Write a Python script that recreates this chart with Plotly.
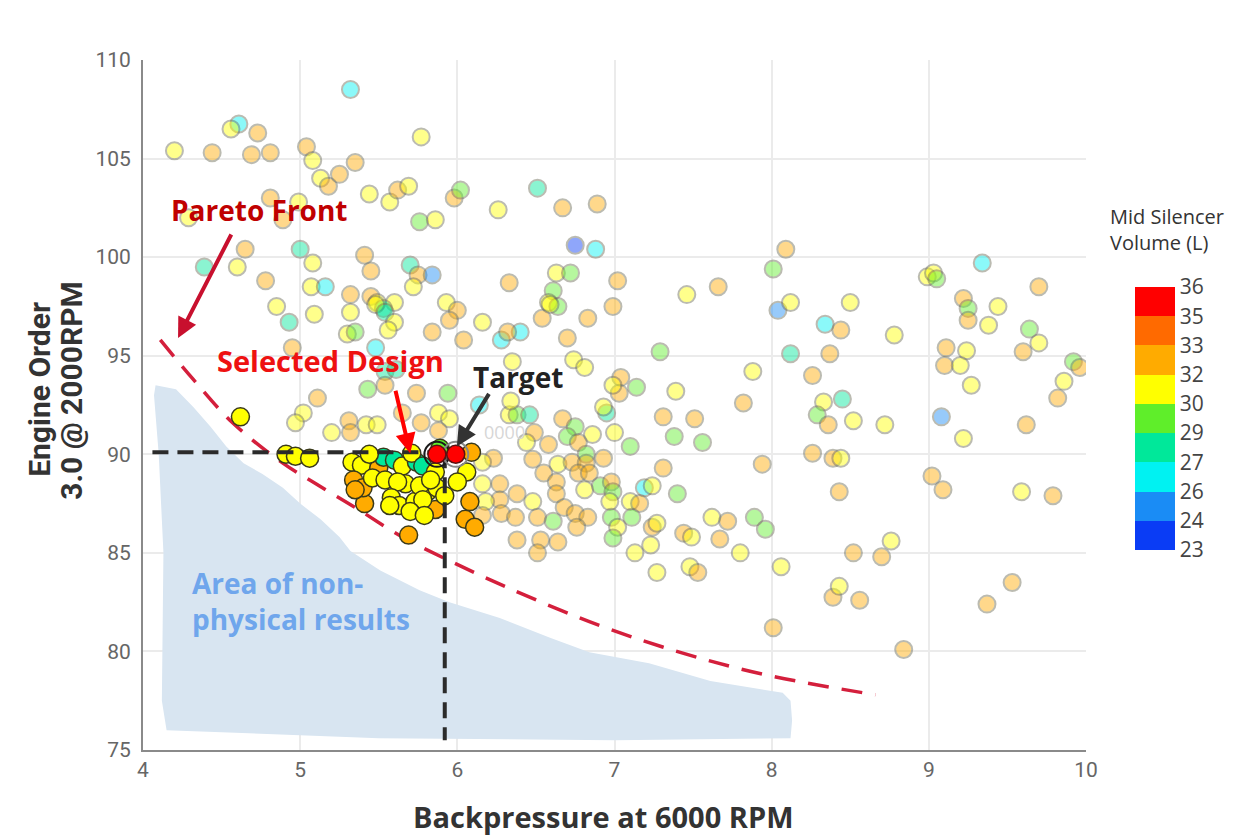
import plotly.graph_objects as go

# ---------------- data ----------------
# Volume classes (mid-band values of the colour scale)
O, Y, G, T, C, B, P = 32.5, 31.0, 29.5, 28.0, 26.5, 25.0, 23.5
A, R = 32.5, 35.5

bg_pts = [
    (5.32,108.5,C),(4.61,106.75,C),(4.56,106.5,Y),(4.73,106.3,O),(4.20,105.4,Y),(4.44,105.3,O),
    (4.69,105.2,O),(4.81,105.3,O),(5.04,105.6,O),(5.08,104.9,Y),(5.35,104.8,O),(5.77,106.1,Y),
    (5.13,104.0,Y),(5.18,103.6,O),(5.25,104.2,O),(5.44,103.2,Y),(5.57,102.8,Y),(5.62,103.4,O),
    (5.69,103.6,Y),(5.98,103.0,O),(6.02,103.4,G),(5.76,101.8,G),(5.86,101.9,Y),(4.81,103.0,O),
    (4.99,102.8,Y),(4.29,102.0,Y),(4.89,101.9,O),(4.65,100.4,O),(4.39,99.5,T),(4.60,99.5,Y),
    (5.00,100.4,T),(5.08,99.7,Y),(4.78,98.8,O),(5.07,98.5,Y),(5.16,98.5,C),(5.41,100.1,O),
    (5.45,99.3,O),(5.70,99.6,T),(5.75,99.1,O),(5.84,99.1,B),(5.72,98.5,Y),(5.32,98.1,O),
    (5.45,98.0,O),(5.49,97.7,Y),(5.60,97.7,Y),(5.93,97.7,Y),(4.85,97.5,Y),(5.53,97.4,T),
    (6.26,102.4,Y),(6.51,103.5,T),(6.67,102.5,O),(6.89,102.7,O),(6.75,100.6,P),(6.88,100.4,C),
    (6.33,98.7,O),(6.63,99.2,Y),(6.72,99.2,G),(6.61,98.3,G),(6.58,97.7,Y),(6.64,97.5,G),
    (7.02,98.8,O),(6.99,97.5,O),(7.46,98.1,Y),(7.66,98.5,O),(8.01,99.4,G),(8.09,100.4,O),
    (8.04,97.3,B),(6.00,97.3,O),
    (8.12,97.7,Y),(8.50,97.7,Y),(8.99,99.0,Y),(9.03,99.2,Y),(9.05,98.9,G),(9.34,99.7,C),
    (9.22,97.9,O),(9.25,97.4,G),(9.44,97.5,Y),(9.70,98.5,O),
    (4.93,96.7,T),(5.09,97.1,Y),(5.32,97.2,Y),(5.48,97.6,Y),(5.54,97.2,T),(5.60,96.7,Y),
    (5.56,96.3,Y),(5.30,96.1,Y),(5.35,96.2,G),(5.84,96.2,O),(5.95,96.8,O),(4.95,95.4,O),
    (5.48,95.4,C),(5.54,94.2,T),(5.61,94.3,T),(5.43,93.3,G),(5.54,93.5,O),(5.74,93.1,O),
    (5.94,93.1,G),(5.11,92.85,O),(5.02,92.1,Y),(4.97,91.6,Y),(5.20,91.1,Y),(5.31,91.7,O),
    (5.32,91.1,O),(5.42,91.5,Y),(5.49,91.5,Y),(5.65,92.1,O),(5.77,91.6,O),(5.88,92.1,Y),
    (5.95,91.8,Y),(5.88,91.2,O),
    (6.16,96.7,Y),(6.28,95.8,C),(6.40,96.2,C),(6.32,96.2,O),(6.54,96.9,O),(6.59,97.6,Y),
    (6.83,96.9,O),(6.70,95.9,O),(6.04,95.8,O),(6.35,94.7,Y),(6.74,94.8,Y),(6.81,94.4,Y),
    (7.29,95.2,G),(7.88,94.2,Y),(7.04,93.9,O),(7.03,93.1,O),(7.14,93.4,G),(6.99,93.5,Y),
    (7.39,93.2,Y),(7.82,92.6,O),(6.95,92.1,T),(6.93,92.4,Y),(7.31,91.9,O),(7.51,91.8,O),
    (7.38,90.9,G),(7.56,90.6,G),(7.10,90.4,G),(7.00,91.1,Y),(7.31,89.3,O),(7.94,89.5,O),
    (6.67,91.8,O),(6.75,91.4,G),(6.86,91.0,Y),(6.70,90.9,G),(6.77,90.6,O),(6.82,90.0,G),
    (6.58,90.5,O),(6.49,91.1,O),(6.44,90.6,Y),(6.33,92.0,Y),(6.38,92.0,G),(6.46,92.0,T),
    (6.34,92.7,Y),(6.14,92.5,C),(6.23,89.8,O),(6.16,89.6,Y),(6.48,89.75,O),(6.64,89.5,Y),
    (6.73,89.6,O),(6.93,89.8,O),(6.82,89.55,O),(6.55,89.05,O),(6.77,89.05,O),(6.84,89.05,O),
    (6.16,88.5,Y),(6.27,88.5,O),(6.38,88.0,O),(6.48,87.6,Y),(6.63,88.6,O),(6.63,88.0,O),
    (6.81,88.2,Y),(6.91,88.4,G),(6.98,88.6,O),(6.99,88.1,G),(7.19,88.3,C),(7.24,88.4,Y),
    (7.10,87.6,Y),(7.16,87.5,O),(6.97,87.6,Y),(7.40,88.0,G),(6.27,87.7,O),(6.18,87.6,Y),
    (6.16,86.9,O),(6.28,87.0,O),(6.37,86.8,O),(6.51,86.8,O),(6.61,86.6,G),(6.68,87.3,O),
    (6.75,87.0,O),(6.83,86.8,O),(6.76,86.3,O),(6.98,86.8,G),(7.02,86.3,Y),(6.99,85.75,G),
    (7.11,86.8,G),(7.24,86.3,O),(7.27,86.5,Y),(7.44,86.0,O),(7.49,85.8,Y),(7.62,86.8,Y),
    (7.72,86.6,O),(7.89,86.8,G),(7.96,86.2,G),(7.67,85.7,O),(6.38,85.65,O),(6.53,85.65,O),
    (6.64,85.55,O),(7.23,85.4,Y),(6.51,85.0,O),
    (7.13,85.0,Y),(7.27,84.0,Y),(7.48,84.3,Y),(7.53,84.0,O),(7.80,85.0,Y),(8.06,84.3,Y),
    (8.01,81.2,O),(8.39,82.75,O),(8.43,83.3,Y),(8.56,82.6,O),(8.52,85.0,O),(8.70,84.8,O),
    (8.76,85.6,Y),(8.84,80.1,O),
    (8.34,96.6,C),(8.44,96.3,O),(8.78,96.05,Y),(8.12,95.1,T),(8.37,95.1,O),(8.26,94.0,O),
    (8.33,92.65,Y),(8.45,92.8,T),(8.29,92.0,G),(8.36,91.5,O),(8.52,91.7,Y),(8.72,91.5,Y),
    (8.26,90.05,O),(8.39,89.8,O),(8.44,89.8,Y),(8.43,88.1,O),(9.25,96.8,O),(9.38,96.55,Y),
    (9.64,96.35,G),(9.70,95.65,Y),(9.60,95.2,O),(9.11,95.4,O),(9.24,95.25,Y),(9.10,94.5,O),
    (9.20,94.5,Y),(9.27,93.5,Y),(9.92,94.7,G),(9.96,94.4,O),(9.86,93.7,Y),(9.82,92.85,O),
    (9.08,91.9,B),(9.62,91.5,O),(9.22,90.8,Y),(9.02,88.9,O),(9.09,88.2,O),(9.59,88.1,Y),
    (9.79,87.9,O),(9.37,82.4,O),(9.53,83.5,O),
]
bg_x = [p[0] for p in bg_pts]
bg_y = [p[1] for p in bg_pts]
bg_v = [p[2] for p in bg_pts]

hl_pts = [
    (4.62,91.9,Y),(4.91,90.0,Y),(4.97,89.9,Y),(5.06,89.8,Y),(5.41,87.5,A),(5.69,85.9,A),
    (5.86,87.2,A),(5.33,89.6,Y),(5.39,89.45,Y),(5.34,88.7,A),(5.40,88.3,A),(5.50,89.3,A),
    (5.46,88.8,Y),(5.54,88.7,Y),(5.53,89.85,T),(5.60,89.7,T),(5.65,89.4,Y),(5.74,89.6,T),
    (5.71,90.05,Y),(5.78,89.4,T),(5.86,89.1,Y),(5.67,88.5,Y),(5.62,88.6,Y),(5.58,87.8,Y),
    (5.63,87.4,Y),(5.73,87.6,Y),(5.81,88.1,Y),(5.76,88.4,Y),(5.87,88.3,Y),(5.83,88.7,Y),
    (5.89,90.3,G),(6.06,89.1,Y),(6.00,88.6,Y),(6.09,90.1,A),(6.08,87.6,A),(6.05,86.7,A),
    (6.11,86.3,A),(5.92,87.9,Y),(5.78,87.7,Y),(5.44,90.0,Y),(5.35,88.2,A),(5.57,87.4,Y),
    (5.70,87.1,Y),(5.79,86.9,Y),
]
hl_x = [p[0] for p in hl_pts]
hl_y = [p[1] for p in hl_pts]
hl_v = [p[2] for p in hl_pts]

sel_x = [5.87, 5.99]
sel_y = [90.0, 90.0]
sel_v = [R, R]

pareto_x = [4.11, 4.32, 4.57, 4.89, 5.10, 5.35, 5.65, 5.95, 6.33, 6.91, 7.44, 7.97, 8.66]
pareto_y = [95.8, 93.8, 91.6, 89.55, 88.5, 87.3, 85.8, 84.6, 83.2, 81.3, 79.9, 78.8, 77.8]

area_x = [4.08, 4.21, 4.32, 4.43, 4.53, 4.64, 4.76, 4.89, 5.00, 5.13, 5.25, 5.32, 5.51, 5.76,
          5.95, 6.27, 6.59, 6.84, 7.22, 7.61, 8.07, 8.12, 8.13, 8.12, 7.0, 5.5, 4.15, 4.12,
          4.13, 4.10, 4.07]
area_y = [93.5, 93.3, 92.4, 91.4, 90.4, 89.55, 89.0, 88.3, 87.5, 86.7, 85.8, 85.1, 84.1, 83.1,
          82.5, 81.7, 80.7, 79.96, 79.4, 78.5, 77.9, 77.5, 76.5, 75.6, 75.5, 75.6, 76.0, 77.5,
          85.0, 90.0, 93.0]

target_x, target_y = 5.92, 90.1
cross_h_x = [4.06, target_x]
cross_v_y = [target_y, 75.5]

cb_tickvals = [23 + 13 * k / 9 for k in range(10)]
cb_ticktext = ["23", "24", "26", "27", "29", "30", "32", "33", "35", "36"]
band_colors = ["#0a3cf5", "#1a8cf5", "#00f2f2", "#00e89a", "#5fee2a",
               "#ffff00", "#ffab00", "#ff6a00", "#ff0000"]

# ---------------- figure ----------------
scale = []
for i, c in enumerate(band_colors):
    scale.append([i / 9, c])
    scale.append([(i + 1) / 9, c])

fig = go.Figure()

fig.add_trace(go.Scatter(x=area_x, y=area_y, fill="toself", fillcolor="#d8e5f1",
                         mode="lines", line=dict(width=0), hoverinfo="skip", showlegend=False))

fig.add_trace(go.Scatter(x=pareto_x, y=pareto_y, mode="lines",
                         line=dict(color="#d41f3c", width=3.5, dash="21px,13px", shape="spline"),
                         hoverinfo="skip", showlegend=False))

fig.add_trace(go.Scatter(x=bg_x, y=bg_y, mode="markers",
                         marker=dict(size=17, color=bg_v, coloraxis="coloraxis", opacity=0.45,
                                     line=dict(color="#6b6b55", width=2)),
                         showlegend=False))

fig.add_trace(go.Scatter(x=hl_x, y=hl_y, mode="markers",
                         marker=dict(size=18, color=hl_v, coloraxis="coloraxis", opacity=1,
                                     line=dict(color="#3a3a1a", width=1.5)),
                         showlegend=False))

fig.add_trace(go.Scatter(x=cross_h_x, y=[target_y, target_y], mode="lines",
                         line=dict(color="#2b2b2b", width=4, dash="16px,9px"),
                         hoverinfo="skip", showlegend=False))
fig.add_trace(go.Scatter(x=[target_x, target_x], y=cross_v_y, mode="lines",
                         line=dict(color="#2b2b2b", width=4, dash="16px,9px"),
                         hoverinfo="skip", showlegend=False))

fig.add_trace(go.Scatter(x=sel_x, y=sel_y, mode="markers",
                         marker=dict(size=25, color="rgba(0,0,0,0)",
                                     line=dict(color=["#1a1a1a", "#888888"], width=2)),
                         hoverinfo="skip", showlegend=False))
fig.add_trace(go.Scatter(x=sel_x, y=sel_y, mode="markers",
                         marker=dict(size=18, color=sel_v, coloraxis="coloraxis",
                                     line=dict(color="#5a1010", width=1.5)),
                         showlegend=False))

txt_font = "Open Sans"
ann = [
    dict(x=4.744, y=102.39, text="<b>Pareto Front</b>", showarrow=False,
         font=dict(family=txt_font, size=28, color="#c00000")),
    dict(x=5.19, y=94.78, text="<b>Selected Design</b>", showarrow=False,
         font=dict(family=txt_font, size=29, color="#ee1111")),
    dict(x=6.386, y=93.92, text="<b>Target</b>", showarrow=False,
         font=dict(family=txt_font, size=28, color="#222222")),
    dict(x=4.30, y=82.55, text="<b>Area of non-<br>physical results</b>", showarrow=False,
         xanchor="left", align="left",
         font=dict(family=txt_font, size=28, color="#6fa6ec")),
    dict(x=6.30, y=91.13, text="0000", showarrow=False,
         font=dict(family=txt_font, size=18, color="#d6d6d6")),
    dict(x=4.223, y=95.9, ax=54, ay=-105, text="", showarrow=True, arrowhead=2,
         arrowsize=1, arrowwidth=4, arrowcolor="#c8102e"),
    dict(x=5.70, y=90.05, ax=-15, ay=-64, text="", showarrow=True, arrowhead=2,
         arrowsize=1, arrowwidth=4, arrowcolor="#ff0000"),
    dict(x=5.997, y=90.4, ax=33, ay=-54, text="", showarrow=True, arrowhead=2,
         arrowsize=1, arrowwidth=4, arrowcolor="#333333"),
    dict(xref="paper", yref="paper", x=0.4878, y=-0.0957, xanchor="center", yanchor="middle",
         text="<b>Backpressure at 6000 RPM</b>",
         showarrow=False, font=dict(family=txt_font, size=29, color="#333333")),
    dict(xref="paper", yref="paper", x=-0.1092, y=0.522, xanchor="center", yanchor="middle",
         text="<b>Engine Order</b>",
         textangle=-90, showarrow=False, font=dict(family="Roboto", size=30, color="#333333")),
    dict(xref="paper", yref="paper", x=-0.0753, y=0.522, xanchor="center", yanchor="middle",
         text="<b>3.0 @ 2000RPM</b>",
         textangle=-90, showarrow=False, font=dict(family="Roboto", size=30, color="#333333")),
    dict(xref="paper", yref="paper", x=1.0233, y=0.754, text="Mid Silencer<br>Volume (L)",
         showarrow=False, align="left", xanchor="left", yanchor="middle",
         font=dict(family=txt_font, size=20, color="#333333")),
]

fig.update_layout(
    width=1243, height=828,
    margin=dict(l=135, r=165, t=52, b=86),
    paper_bgcolor="white", plot_bgcolor="white",
    font=dict(family="Roboto", color="#666666"),
    annotations=ann,
    coloraxis=dict(
        cmin=23, cmax=36, colorscale=scale,
        colorbar=dict(x=1.052, xanchor="left", xpad=0, y=0.4804, yanchor="middle",
                      len=0.381, lenmode="fraction", ypad=0,
                      thickness=40, outlinewidth=0, ticks="",
                      tickvals=cb_tickvals, ticktext=cb_ticktext,
                      tickfont=dict(family=txt_font, size=21, color="#444444")),
    ),
    xaxis=dict(range=[4, 10], dtick=1, showgrid=True, gridcolor="#ebebeb", gridwidth=1.5,
               zeroline=False, showline=True, linecolor="#8a8a8a", linewidth=2,
               tickfont=dict(size=21, color="#666666"), ticks=""),
    yaxis=dict(range=[75, 110], dtick=5, showgrid=True, gridcolor="#ebebeb", gridwidth=1.5,
               zeroline=False, showline=True, linecolor="#8a8a8a", linewidth=2,
               tickfont=dict(size=21, color="#666666"), ticks="", ticklabelstandoff=6),
)

fig.write_html("out.html")
